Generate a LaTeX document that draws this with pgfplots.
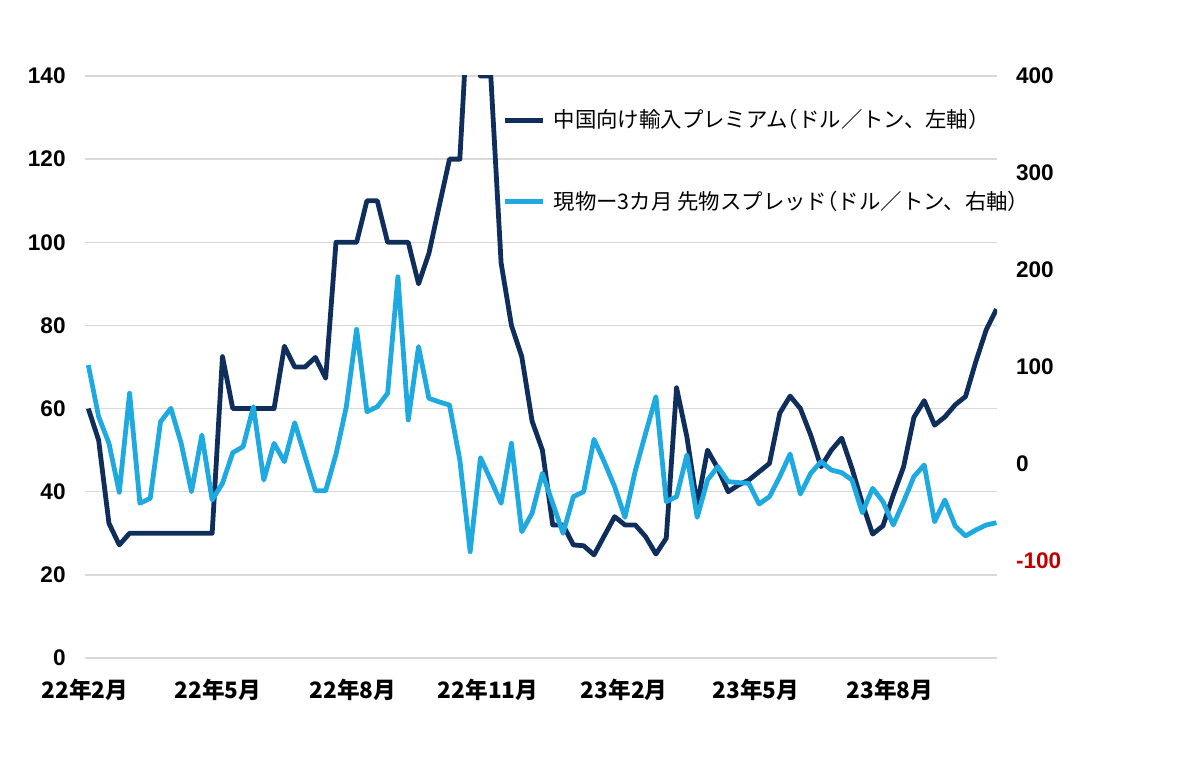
\documentclass[border=0pt]{standalone}
\usepackage{pgfplots}
\pgfplotsset{compat=1.18}
\usepackage{fontspec}
\setmainfont{Liberation Sans}
\newfontfamily\jp{Noto Sans CJK JP}
\definecolor{darkline}{HTML}{0F2E5C}
\definecolor{lightline}{HTML}{1FA9E1}
\definecolor{gridgray}{HTML}{D9D9D9}
\definecolor{negred}{HTML}{C00000}

\pgfplotstableread{
i v
0 60
1 52.4
2 32.4
3 27.2
4 30
5 30
6 30
7 30
8 30
9 30
10 30
11 30
12 30
13 72.5
14 60
15 60
16 60
17 60
18 60
19 75
20 70
21 70
22 72.3
23 67.3
24 100
25 100
26 100
27 110
28 110
29 100
30 100
31 100
32 90
33 97.3
34 108.7
35 120
36 120
37 165
38 140
39 140
40 95
41 80
42 72.5
43 57
44 50
45 32
46 32
47 27.2
48 27
49 24.8
50 29.4
51 34
52 32
53 32
54 29.2
55 25
56 28.8
57 65
58 53.2
59 36.8
60 50
61 45.6
62 40
63 41.6
64 42.8
65 44.8
66 46.8
67 58.9
68 63
69 60
70 53.6
71 46
72 50
73 52.9
74 45.6
75 37.2
76 29.8
77 31.8
78 39.2
79 46
80 57.9
81 61.9
82 56
83 58
84 60.9
85 62.9
86 71.3
87 78.9
88 83.9
}\premium

\pgfplotstableread{
i v
0 102
1 48.8
2 21.3
3 -29.2
4 72.9
5 -40.5
6 -35.4
7 43.6
8 57.4
9 21.3
10 -28.5
11 29.9
12 -37.1
13 -19.9
14 11.7
15 17.9
16 59.1
17 -16.5
18 21.3
19 2.4
20 42.6
21 7.6
22 -27.5
23 -27.5
24 10
25 59
26 138.8
27 54
28 59
29 72.9
30 193
31 45.4
32 121
33 67.7
34 64
35 60.8
36 4.1
37 -90.4
38 6.5
39 -16.5
40 -40.5
41 21.3
42 -69.8
43 -50.8
44 -9.6
45 -40.5
46 -71.4
47 -33.7
48 -28.5
49 25.4
50 2
51 -23.4
52 -55
53 -7
54 31.6
55 69.4
56 -38.8
57 -33.7
58 9.3
59 -55
60 -16.5
61 -2.7
62 -18.2
63 -19.2
64 -19.9
65 -41.2
66 -33.7
67 -13
68 10.3
69 -30.9
70 -9.6
71 2.4
72 -6.2
73 -8.9
74 -16.5
75 -50.2
76 -25.1
77 -38.8
78 -62.9
79 -38.8
80 -13
81 -1
82 -59.5
83 -37.1
84 -63.9
85 -74.2
86 -68
87 -62.9
88 -60.5
}\spread

\begin{document}
\begin{tikzpicture}
\useasboundingbox (0,0) rectangle (600pt,385pt);
\begin{axis}[
  at={(42.35pt,56pt)}, anchor=south west,
  scale only axis, width=456.15pt, height=291pt,
  xmin=-0.35, xmax=88.05, ymin=0, ymax=140,
  ytick={0,20,...,140},
  xtick={-0.32,12.57,25.65,38.73,51.92,64.7,77.69},
  xticklabels={22年2月,22年5月,22年8月,22年11月,23年2月,23年5月,23年8月},
  xticklabel style={font=\jp\bfseries\fontsize{11.3}{13}\selectfont, yshift=-7pt},
  yticklabel style={font=\bfseries\fontsize{11.3}{13}\selectfont, xshift=-6pt},
  /pgf/number format/assume math mode=true,
  axis line style={draw=none},
  major tick length=0pt,
  ymajorgrids, grid style={gridgray, line width=0.75pt},
  legend style={at={(0.458,0.95)}, anchor=north west, draw=none, fill=none,
    font=\jp\fontsize{10.7}{12.8}\selectfont, row sep=26pt, inner sep=0pt,
    cells={anchor=west}},
  legend image code/.code={\draw[#1] (0pt,0pt) -- (19pt,0pt);},
]
\addplot[darkline, line width=2.4pt, line join=round] table[x=i,y=v] {\premium};
\addlegendentry{\hspace{2pt}中国向け輸入プレミアム\kern-0.5em（ドル／トン、左軸）}
\addlegendimage{lightline, line width=2.4pt}
\addlegendentry{\hspace{2pt}現物ー3カ月 先物スプレッド\kern-0.5em（ドル／トン、右軸）}
\end{axis}
\begin{axis}[
  at={(42.35pt,56pt)}, anchor=south west,
  scale only axis, width=456.15pt, height=291pt,
  xmin=-0.35, xmax=88.05, ymin=-200, ymax=400,
  hide x axis, axis y line*=right,
  axis line style={draw=none},
  major tick length=0pt,
  ytick={-100,0,100,200,300,400},
  yticklabels={{\color{negred}-100},0,100,200,300,400},
  yticklabel style={font=\bfseries\fontsize{11.3}{13}\selectfont, xshift=6pt},
  /pgf/number format/assume math mode=true,
]
\addplot[lightline, line width=2.4pt, line join=round] table[x=i,y=v] {\spread};
\end{axis}
\end{tikzpicture}
\end{document}
